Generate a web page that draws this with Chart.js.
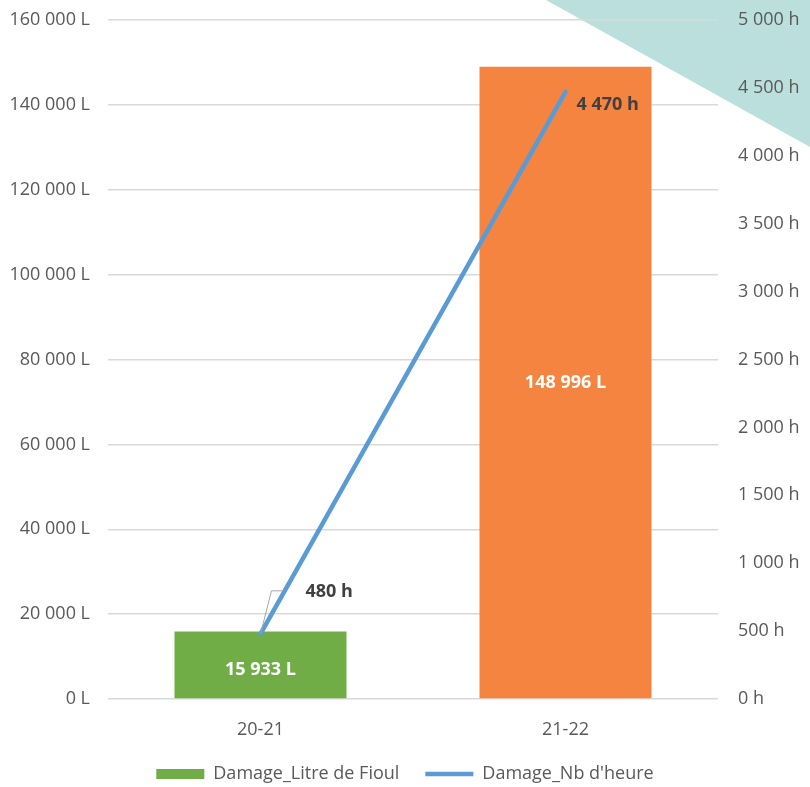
<!DOCTYPE html>
<html>
<head>
<meta charset="utf-8">
<script src="https://cdn.jsdelivr.net/npm/chart.js@4/dist/chart.umd.min.js"></script>
<style>
  html, body { margin: 0; padding: 0; background: #fff; }
  canvas { display: block; }
</style>
</head>
<body>
<canvas id="chart" width="810" height="787"></canvas>
<script>
const categories = ['20-21', '21-22'];
const litres = [15933, 148996];
const hours = [480, 4470];
const litreLabels = ['15 933 L', '148 996 L'];
const hourLabels = ['480 h', '4 470 h'];

const FONT = "'Open Sans', sans-serif";

function fmt(v, unit) {
  return String(v).replace(/\B(?=(\d{3})+(?!\d))/g, ' ') + ' ' + unit;
}

// teal corner decoration behind the chart
const cornerPlugin = {
  id: 'corner',
  beforeDraw(chart) {
    const ctx = chart.ctx;
    ctx.save();
    ctx.fillStyle = '#bbdfdd';
    ctx.beginPath();
    ctx.moveTo(546, 0);
    ctx.lineTo(chart.width, 0);
    ctx.lineTo(chart.width, 147);
    ctx.closePath();
    ctx.fill();
    ctx.restore();
  }
};

// value labels
const labelPlugin = {
  id: 'valueLabels',
  afterDatasetsDraw(chart) {
    const ctx = chart.ctx;
    ctx.save();
    ctx.font = "bold 18px " + FONT;
    ctx.textBaseline = 'middle';
    ctx.textAlign = 'center';

    const bars = chart.getDatasetMeta(0).data;
    ctx.fillStyle = '#ffffff';
    ctx.fillText(litreLabels[0], bars[0].x, (bars[0].y + bars[0].base) / 2 + 5);
    ctx.fillText(litreLabels[1], bars[1].x, (bars[1].y + bars[1].base) / 2);

    const pts = chart.getDatasetMeta(1).data;
    ctx.fillStyle = '#404040';
    ctx.textAlign = 'left';
    // 480 h with leader line
    const p0 = pts[0];
    ctx.strokeStyle = '#a6a6a6';
    ctx.lineWidth = 1;
    ctx.beginPath();
    ctx.moveTo(p0.x, p0.y);
    ctx.lineTo(p0.x + 11, p0.y - 43);
    ctx.lineTo(p0.x + 23, p0.y - 43);
    ctx.stroke();
    ctx.fillText(hourLabels[0], p0.x + 45, p0.y - 42);
    const p1 = pts[1];
    ctx.fillText(hourLabels[1], p1.x + 11, p1.y + 13);
    ctx.restore();
  }
};

new Chart(document.getElementById('chart'), {
  data: {
    labels: categories,
    datasets: [
      {
        type: 'bar',
        label: 'Damage_Litre de Fioul',
        data: litres,
        backgroundColor: ['#70ad47', '#f4843f'],
        borderWidth: 0,
        categoryPercentage: 1,
        barPercentage: 0.564,
        yAxisID: 'y',
        order: 2,
        pointStyle: 'rect'
      },
      {
        type: 'line',
        label: "Damage_Nb d'heure",
        data: hours,
        borderColor: '#5b9bd5',
        backgroundColor: '#5b9bd5',
        borderWidth: 4.5,
        borderCapStyle: 'round',
        pointRadius: 0,
        yAxisID: 'y1',
        order: 1,
        pointStyle: 'line'
      }
    ]
  },
  options: {
    responsive: false,
    animation: false,
    layout: { padding: { top: 20, left: 8, right: 8, bottom: 0 } },
    scales: {
      x: {
        grid: { display: false, drawTicks: false },
        border: { display: false },
        ticks: { color: '#595959', font: { family: FONT, size: 18 }, padding: 20 },
        afterFit(s) { s.height = 40; }
      },
      y: {
        position: 'left',
        min: 0, max: 160000,
        ticks: { stepSize: 20000, color: '#595959', font: { family: FONT, size: 18 }, padding: 18,
                 callback: v => fmt(v, 'L') },
        grid: { color: '#d9d9d9', lineWidth: 1.5, drawTicks: false },
        border: { display: false },
        afterFit(s) { s.width = 100; s.paddingTop = 0; s.paddingBottom = 0; }
      },
      y1: {
        position: 'right',
        min: 0, max: 5000,
        ticks: { stepSize: 500, color: '#595959', font: { family: FONT, size: 18 }, padding: 20,
                 callback: v => fmt(v, 'h') },
        grid: { display: false, drawTicks: false },
        border: { display: false },
        afterFit(s) { s.width = 84; s.paddingTop = 0; s.paddingBottom = 0; }
      }
    },
    plugins: {
      tooltip: { enabled: false },
      legend: {
        position: 'bottom',
        maxHeight: 48,
        labels: {
          usePointStyle: true,
          pointStyleWidth: 48,
          boxHeight: 10,
          padding: 26,
          color: '#595959',
          font: { family: FONT, size: 18 },
          sort: (a, b) => a.datasetIndex - b.datasetIndex
        }
      }
    }
  },
  plugins: [cornerPlugin, labelPlugin]
});
</script>
</body>
</html>
